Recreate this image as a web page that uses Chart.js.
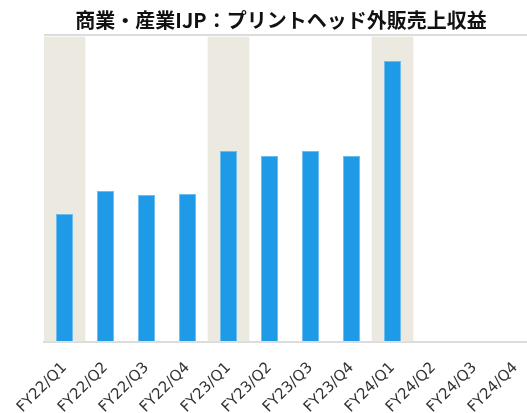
<!DOCTYPE html>
<html>
<head>
<meta charset="utf-8">
<script src="https://cdn.jsdelivr.net/npm/chart.js@4"></script>
<style>
  html, body { margin: 0; padding: 0; background: #fff; }
  #wrap { width: 527px; height: 413px; }
</style>
</head>
<body>
<div id="wrap"><canvas id="grafico"></canvas></div>
<script>
// データ
const categorias = ["FY22/Q1", "FY22/Q2", "FY22/Q3", "FY22/Q4",
                    "FY23/Q1", "FY23/Q2", "FY23/Q3", "FY23/Q4",
                    "FY24/Q1", "FY24/Q2", "FY24/Q3", "FY24/Q4"];
const ventas = [41.7, 49.2, 47.9, 48.2, 62.2, 60.6, 62.2, 60.6, 91.5, null, null, null];
// Q1 を強調する背景帯
const bandas = [99.3, null, null, null, 99.3, null, null, null, 99.3, null, null, null];
const titulo = "商業・産業IJP：プリントヘッド外販売上収益";

// 元の図は右端がキャンバスの外まで続いているので、x軸を少し延ばす
const extraDerecha = 9;
const extenderDerecha = {
  id: "extenderDerecha",
  afterLayout(chart) {
    const x = chart.scales.x;
    x.right += extraDerecha;
    x.width += extraDerecha;
    x.configure();
    chart.chartArea.right += extraDerecha;
    chart.chartArea.width += extraDerecha;
  }
};

new Chart(document.getElementById("grafico"), {
  type: "bar",
  data: {
    labels: categorias,
    datasets: [
      {
        data: ventas,
        backgroundColor: "#1e9ae6",
        borderColor: "#6cbcee",
        borderWidth: 1,
        barPercentage: 0.42,
        categoryPercentage: 1,
        grouped: false,
        order: 1
      },
      {
        data: bandas,
        backgroundColor: "#ece9e0",
        borderWidth: 0,
        barPercentage: 1,
        categoryPercentage: 1,
        grouped: false,
        order: 2
      }
    ]
  },
  options: {
    responsive: true,
    maintainAspectRatio: false,
    animation: false,
    layout: { padding: { left: 35, right: 0, top: 0, bottom: 0 } },
    plugins: {
      legend: { display: false },
      tooltip: { enabled: false },
      title: {
        display: true,
        text: titulo,
        color: "#111",
        font: { family: "'Noto Sans CJK JP'", size: 20, weight: "bold" },
        padding: { top: 8, bottom: 3 }
      }
    },
    scales: {
      x: {
        grid: { display: false },
        border: { color: "#dcdcdc", width: 2 },
        ticks: {
          minRotation: 45,
          maxRotation: 45,
          padding: 9,
          color: "#333",
          font: { family: "'DejaVu Sans'", size: 15 }
        },
        afterFit: scale => {
          // 軸の高さと左右の余白を固定
          scale.height = 71;
          scale.paddingLeft = 44;
          scale.paddingRight = 0;
        }
      },
      y: {
        min: 0,
        max: 100,
        ticks: { display: false },
        border: { display: false },
        grid: {
          drawTicks: false,
          color: ctx => ctx.tick && ctx.tick.value === 100 ? "#dcdcdc" : "rgba(0,0,0,0)",
          lineWidth: 2
        }
      }
    }
  },
  plugins: [extenderDerecha]
});
</script>
</body>
</html>
